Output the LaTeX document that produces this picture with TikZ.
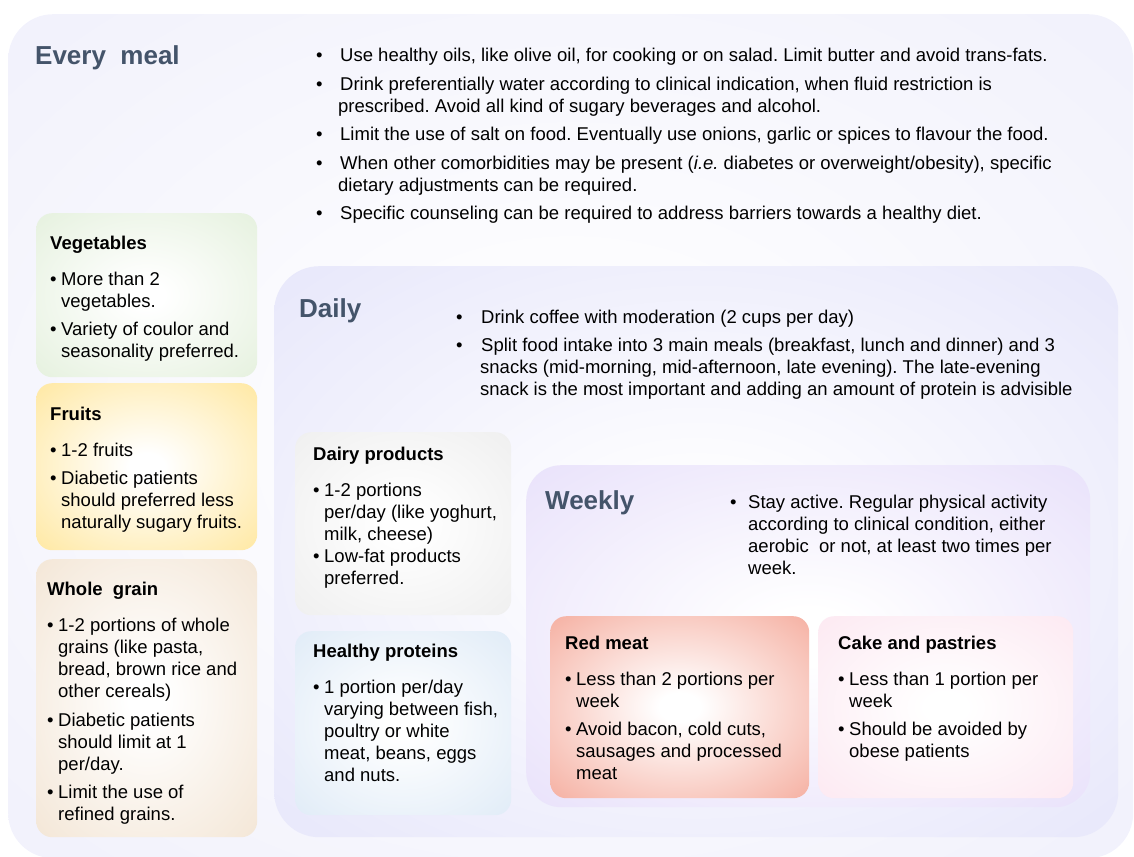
\documentclass[tikz,border=0pt]{standalone}
\usepackage{fontspec}
\setmainfont{Liberation Sans}
\usetikzlibrary{calc,positioning}
\frenchspacing

\definecolor{titlec}{HTML}{44546A}
\definecolor{mealc}{HTML}{EFEFFB}
\definecolor{dailyc}{HTML}{E4E4FA}
\definecolor{weekc}{HTML}{E6DEFA}
\definecolor{vegc}{HTML}{E2EFDA}
\definecolor{fruitc}{HTML}{FFE596}
\definecolor{grainc}{HTML}{F2E3D1}
\definecolor{dairyc}{HTML}{EDEDED}
\definecolor{protc}{HTML}{DCE9F6}
\definecolor{redc}{HTML}{F4A595}
\definecolor{cakec}{HTML}{FCE6F0}

\makeatletter
\pgfdeclareradialshading[tikz@ball]{glow}{\pgfpointorigin}{color(0bp)=(white); color(4bp)=(white); color(40bp)=(tikz@ball); color(71bp)=(tikz@ball)}
\makeatother

\newcommand{\bul}[1][11pt]{\makebox[#1][l]{\textbullet}}
\newcommand{\hng}[1][11pt]{\hspace*{#1}}

\begin{document}
\begin{tikzpicture}[x=1pt,y=-1pt,
  glow/.style={ball color=#1,shading=glow},
  panel/.style={rounded corners=#1,anchor=north west,inner sep=0pt},
  card/.style={rounded corners=16pt,anchor=north west,inner sep=0pt},
  big/.style={anchor=base west,inner sep=0pt,text=titlec,
    font=\fontsize{26}{30}\selectfont\bfseries},
  head/.style={anchor=base west,inner sep=0pt,font=\fontsize{18.5}{22}\selectfont\bfseries},
  body/.style={anchor=north west,inner sep=0pt,align=left,font=\fontsize{18.5}{22}\selectfont}]

\useasboundingbox (0,0) rectangle (1134,856);

% panels
\node[panel=45pt,glow=mealc,minimum width=1125,minimum height=844] (meal) at (8,14) {};
\node[panel=45pt,glow=dailyc,minimum width=844,minimum height=571] (daily) at (274,266) {};
\node[panel=35pt,glow=weekc,minimum width=564,minimum height=342] (week) at (526,465) {};

% cards
\node[card,glow=vegc,minimum width=221,minimum height=164] (veg) at (36,213) {};
\node[card,glow=fruitc,minimum width=221,minimum height=167] (fruit) at (36,383) {};
\node[card,glow=grainc,minimum width=221,minimum height=278] (grain) at (36,559) {};
\node[card,glow=dairyc,minimum width=216,minimum height=183] (dairy) at (295,432) {};
\node[card,glow=protc,minimum width=216,minimum height=184] (prot) at (295,631) {};
\node[card,glow=redc,minimum width=259,minimum height=182] (red) at (550,616) {};
\node[card,glow=cakec,minimum width=255,minimum height=182] (cake) at (818,616) {};

% every meal
\node[big] (mealhd) at (35,65) {Every\ \ meal};
\node[body] (mealtx) at (316,48.2) {\bul[24pt]Use healthy oils, like olive oil, for cooking or on salad. Limit butter and avoid trans-fats.\\[6.5pt]
  \bul[24pt]Drink preferentially water according to clinical indication, when fluid restriction is\\
  \hng[22pt]prescribed. Avoid all kind of sugary beverages and alcohol.\\[6.5pt]
  \bul[24pt]Limit the use of salt on food. Eventually use onions, garlic or spices to flavour the food.\\[6.5pt]
  \bul[24pt]When other comorbidities may be present (\textit{i.e.} diabetes or overweight/obesity), specific\\
  \hng[22pt]dietary adjustments can be required.\\[6.5pt]
  \bul[24pt]Specific counseling can be required to address barriers towards a healthy diet.};

\node[head] (veghd) at (50,249) {Vegetables};
\node[body] (vegtx) at (50,271.5) {\bul More than 2\\\hng vegetables.\\[6.5pt]
  \bul Variety of coulor and\\\hng seasonality preferred.};

\node[head] (fruithd) at (50,420.5) {Fruits};
\node[body] (fruittx) at (50,442.5) {\bul 1-2 fruits\\[6.5pt]
  \bul Diabetic patients\\\hng should preferred less\\\hng naturally sugary fruits.};

\node[head] (grainhd) at (47,595) {Whole\ \ grain};
\node[body] (graintx) at (47,618) {\bul 1-2 portions of whole\\\hng grains (like pasta,\\\hng bread, brown rice and\\\hng other cereals)\\[6.5pt]
  \bul Diabetic patients\\\hng should limit at 1\\\hng per/day.\\[6.5pt]
  \bul Limit the use of\\\hng refined grains.};

% daily
\node[big] (dailyhd) at (299,317) {Daily};
\node[body] (dailytx) at (456,309.8) {\bul[25pt]Drink coffee with moderation (2 cups per day)\\[6.5pt]
  \bul[25pt]Split food intake into 3 main meals (breakfast, lunch and dinner) and 3\\
  \hng[24pt]snacks (mid-morning, mid-afternoon, late evening). The late-evening\\
  \hng[24pt]snack is the most important and adding an amount of protein is advisible};

\node[head] (dairyhd) at (313,460) {Dairy products};
\node[body] (dairytx) at (313,482.5) {\bul 1-2 portions\\\hng per/day (like yoghurt,\\\hng milk, cheese)\\
  \bul Low-fat products\\\hng preferred.};

\node[head] (prothd) at (313,657) {Healthy proteins};
\node[body] (prottx) at (313,679.5) {\bul 1 portion per/day\\\hng varying between fish,\\\hng poultry or white\\\hng meat, beans, eggs\\\hng and nuts.};

% weekly
\node[big] (weekhd) at (545,509) {Weekly};
\node[body] (weektx) at (730,494.8) {\bul[18pt]Stay active. Regular physical activity\\
  \hng[18pt]according to clinical condition, either\\
  \hng[18pt]aerobic\ \ or not, at least two times per\\
  \hng[18pt]week.};

\node[head] (redhd) at (565,649) {Red meat};
\node[body] (redtx) at (565,671.5) {\bul Less than 2 portions per\\\hng week\\[6.5pt]
  \bul Avoid bacon, cold cuts,\\\hng sausages and processed\\\hng meat};

\node[head] (cakehd) at (838,649) {Cake and pastries};
\node[body] (caketx) at (838,671.5) {\bul Less than 1 portion per\\\hng week\\[6.5pt]
  \bul Should be avoided by\\\hng obese patients};

\end{tikzpicture}
\end{document}
